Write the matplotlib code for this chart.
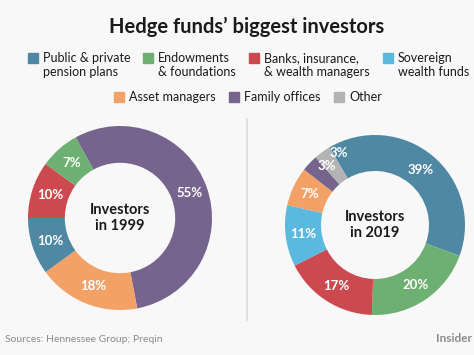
import matplotlib.pyplot as plt
from matplotlib.patches import Rectangle

plt.rcParams['font.family'] = ['Lato', 'DejaVu Sans']

# categories in legend order with their colours
categories = ["Public & private\npension plans", "Endowments\n& foundations",
              "Banks, insurance,\n& wealth managers", "Sovereign\nwealth funds",
              "Asset managers", "Family offices", "Other"]
colors = ["#4f88a3", "#6db072", "#cc4a4f", "#5bb9e0", "#f2a266", "#76648e", "#b3b3b3"]

# 1999 shares, listed clockwise from the top-left of the ring
order_1999 = [5, 4, 0, 2, 1]
values_1999 = [55, 18, 10, 10, 7]

# 2019 shares, listed clockwise from the top
order_2019 = [0, 1, 2, 3, 4, 5, 6]
values_2019 = [39, 20, 17, 11, 7, 3, 3]

W, H = 474, 355
bg = "#f8f8f8"
fig = plt.figure(figsize=(W / 100, H / 100), dpi=100, facecolor=bg)


def px(x):
    return x / W


def py(y):
    return 1 - y / H


def donut(cx, cy, r, order, values, start, center_text):
    ax = fig.add_axes([px(cx - r), py(cy + r), 2 * r / W, 2 * r / H])
    ax.set_facecolor(bg)
    wedges, texts, autotexts = ax.pie(
        values, colors=[colors[i] for i in order], startangle=start,
        counterclock=False, radius=1,
        wedgeprops=dict(width=0.4, linewidth=0),
        autopct=lambda p: f"{p:.0f}%", pctdistance=0.8,
        textprops=dict(color="white", fontsize=9.5, fontweight="bold"))
    ax.set_xlim(-1, 1)
    ax.set_ylim(-1, 1)
    ax.set_aspect("equal")
    ax.axis("off")
    ax.text(0, 0, center_text, ha="center", va="center", fontsize=10.5,
            fontweight="bold", color="#1a1a1a", linespacing=1.25)
    return autotexts


donut(120, 218, 92, order_1999, values_1999, 118.8, "Investors\nin 1999")
at = donut(375, 225, 90, order_2019, values_2019, 120.4, "Investors\nin 2019")
# the two small slices: spread their labels like the original
at[6].set_position((-0.40, 0.80))
at[5].set_position((-0.54, 0.65))

# divider
fig.add_artist(plt.Line2D([px(247), px(247)], [py(119), py(320)],
                          color="#dcdcdc", linewidth=1.2))

# title
fig.text(px(247), py(27), "Hedge funds\u2019 biggest investors", ha="center", va="center",
         fontsize=14.5, fontweight="bold", color="#1a1a1a")

# legend
legend_pos = [(28, 53), (143, 53), (249, 53), (383, 53), (114, 92), (229, 92), (334, 92)]
for (x, y), lab, c in zip(legend_pos, categories, colors):
    fig.add_artist(Rectangle((px(x), py(y + 10)), 10 / W, 10 / H, color=c,
                             transform=fig.transFigure))
    fig.text(px(x + 15), py(y - 1), lab, ha="left", va="top", fontsize=9,
             color="#1a1a1a", linespacing=1.15)

# footer
fig.text(px(5), py(339), "Sources: Hennessee Group; Preqin", ha="left", va="center",
         fontsize=7.5, color="#8a8a8a")
fig.text(px(472), py(339), "Insider", ha="right", va="center",
         fontsize=8.5, fontweight="bold", color="#8a8a8a")

fig.savefig("out.png", dpi=100, facecolor=bg)
